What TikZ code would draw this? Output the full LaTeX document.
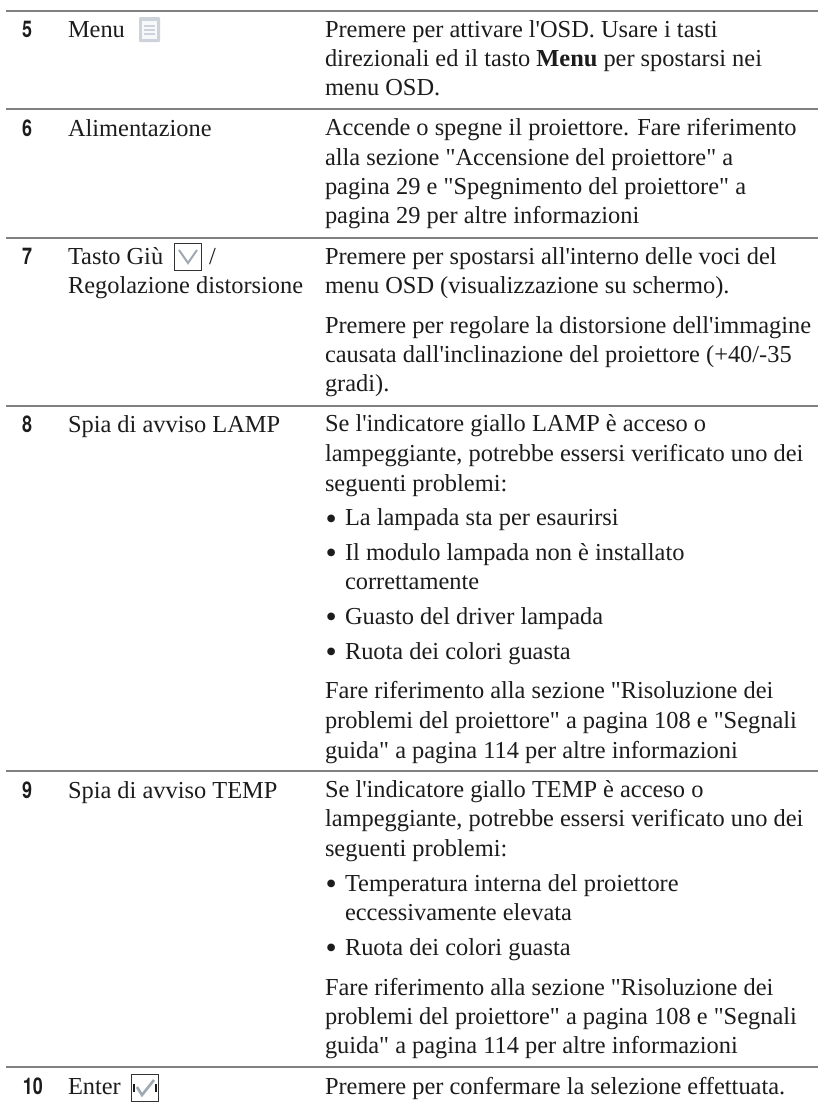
\documentclass[tikz,border=0pt]{standalone}
\usepackage{fontspec}
\newfontfamily\bodyf{Liberation Serif}
\newfontfamily\numf[FakeStretch=0.78]{TeX Gyre Heros}
\definecolor{ink}{HTML}{1C1C1C}
\definecolor{rulegray}{HTML}{808080}
\definecolor{iconblue}{HTML}{9FA9B3}
\definecolor{iconpale}{HTML}{CCD3DA}
\tikzset{
  txt/.style={anchor=base west,inner sep=0pt,outer sep=0pt,text=ink,font=\bodyf\fontsize{24.4}{28}\selectfont},
  bul/.style={anchor=base west,inner sep=0pt,outer sep=0pt,text=ink,yshift=-3.3pt,font=\bodyf\fontsize{32}{34}\selectfont},
  numlab/.style={anchor=base west,inner sep=0pt,outer sep=0pt,text=ink,font=\numf\bfseries\fontsize{23}{26}\selectfont},
  tablerule/.style={draw=rulegray,line width=2pt},
  iconframe/.style={draw=ink!90,line width=1.5pt,fill=white}
}
\begin{document}
\begin{tikzpicture}[x=1pt,y=-1pt]
\useasboundingbox (0,0) rectangle (818,1104);
% rules
\foreach \n/\yy in {a/11,b/109,c/237.5,d/406,e/770.7,f/1066.7}{
  \coordinate (l\n) at (6,\yy);
  \coordinate (r\n) at (818,\yy);
  \draw[tablerule] (l\n) -- (r\n);
}
% numbers
\node[numlab] (n5) at (22,37) {5};
\node[numlab] (n6) at (22,136) {6};
\node[numlab] (n7) at (22,264) {7};
\node[numlab] (n8) at (22,432) {8};
\node[numlab] (n9) at (22,798) {9};
\node[numlab] (n10) at (23,1094) {10};
% left column
\node[txt] (m5) at (68,37) {Menu};
\node[txt] (m6) at (68,136) {Alimentazione};
\node[txt] (m7a) at (68,264) {Tasto Giù};
\node[txt] (m7s) at (209,264) {/};
\node[txt] (m7b) at (68,293.3) {Regolazione distorsione};
\node[txt] (m8) at (68,432) {Spia di avviso LAMP};
\node[txt] (m9) at (68,798) {Spia di avviso TEMP};
\node[txt] (m10) at (68,1094) {Enter};
% right column
\node[txt] (t1) at (325,37.3) {Premere per attivare l'OSD. Usare i tasti};
\node[txt] (t2) at (325,66.7) {direzionali ed il tasto \textbf{Menu} per spostarsi nei};
\node[txt] (t3) at (325,95.7) {menu OSD.};
\node[txt] (t4) at (325,135.7) {Accende o spegne il proiettore. Fare riferimento};
\node[txt] (t5) at (325,165) {alla sezione "Accensione del proiettore" a};
\node[txt] (t6) at (325,194.3) {pagina 29 e "Spegnimento del proiettore" a};
\node[txt] (t7) at (325,223.3) {pagina 29 per altre informazioni};
\node[txt] (t8) at (325,264) {Premere per spostarsi all'interno delle voci del};
\node[txt] (t9) at (325,293.3) {menu OSD (visualizzazione su schermo).};
\node[txt] (t10) at (325,333.3) {Premere per regolare la distorsione dell'immagine};
\node[txt] (t11) at (325,362.3) {causata dall'inclinazione del proiettore (+40/-35};
\node[txt] (t12) at (325,391.7) {gradi).};
\node[txt] (t13) at (325,431.7) {Se l'indicatore giallo LAMP è acceso o};
\node[txt] (t14) at (325,461.7) {lampeggiante, potrebbe essersi verificato uno dei};
\node[txt] (t15) at (325,491) {seguenti problemi:};
\node[bul] (b1) at (325.5,525.7) {•};
\node[txt] (t16) at (345,525.7) {La lampada sta per esaurirsi};
\node[bul] (b2) at (325.5,560) {•};
\node[txt] (t17) at (345,560) {Il modulo lampada non è installato};
\node[txt] (t18) at (345,589.3) {correttamente};
\node[bul] (b3) at (325.5,624) {•};
\node[txt] (t19) at (345,624) {Guasto del driver lampada};
\node[bul] (b4) at (325.5,659) {•};
\node[txt] (t20) at (345,659) {Ruota dei colori guasta};
\node[txt] (t21) at (325,698.7) {Fare riferimento alla sezione "Risoluzione dei};
\node[txt] (t22) at (325,728) {problemi del proiettore" a pagina 108 e "Segnali};
\node[txt] (t23) at (325,758.3) {guida" a pagina 114 per altre informazioni};
\node[txt] (t24) at (325,797.7) {Se l'indicatore giallo TEMP è acceso o};
\node[txt] (t25) at (325,826.7) {lampeggiante, potrebbe essersi verificato uno dei};
\node[txt] (t26) at (325,856) {seguenti problemi:};
\node[bul] (b5) at (325.5,891) {•};
\node[txt] (t27) at (345,891) {Temperatura interna del proiettore};
\node[txt] (t28) at (345,920) {eccessivamente elevata};
\node[bul] (b6) at (325.5,955) {•};
\node[txt] (t29) at (345,955) {Ruota dei colori guasta};
\node[txt] (t30) at (325,995) {Fare riferimento alla sezione "Risoluzione dei};
\node[txt] (t31) at (325,1024) {problemi del proiettore" a pagina 108 e "Segnali};
\node[txt] (t32) at (325,1053) {guida" a pagina 114 per altre informazioni};
\node[txt] (t33) at (325,1094) {Premere per confermare la selezione effettuata.};
% menu icon
\fill[iconpale,rounded corners=1pt] (139,17) rectangle (160,42);
\fill[white!85!iconpale] (142,21) rectangle (157,39);
\foreach \yy in {26,30,34}{\draw[iconpale,line width=1.1pt] (144,\yy) -- (155,\yy);}
% down icon
\draw[iconframe] (174.5,243.5) rectangle (201.5,270.5);
\draw[iconblue,line width=2pt] (179,250) -- (188,263) -- (197,250);
% enter icon
\draw[iconframe] (131.5,1074.5) rectangle (158.5,1101.5);
\draw[iconblue,line width=2.6pt] (137,1087) -- (142,1095) -- (154,1080);
\draw[ink,line width=2.6pt] (134,1084) -- (134,1092);
\draw[ink,line width=2.6pt] (156,1084) -- (156,1092);
\end{tikzpicture}
\end{document}
